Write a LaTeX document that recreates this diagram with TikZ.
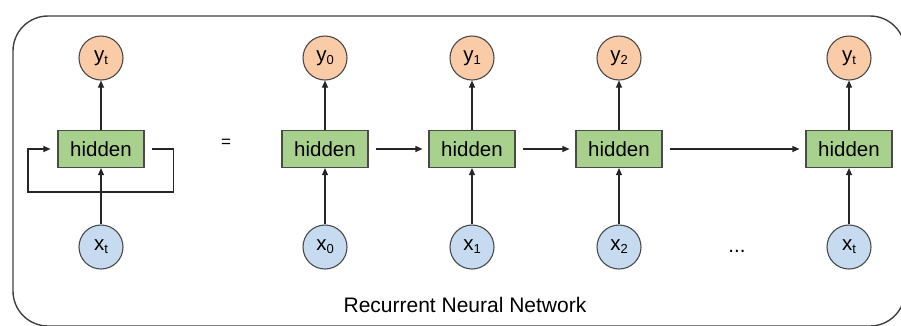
\documentclass[tikz,border=0pt]{standalone}
\usepackage{fontspec}
\setmainfont{Liberation Sans}
\usetikzlibrary{arrows.meta}
\definecolor{yfill}{HTML}{F9CBA7}
\definecolor{xfill}{HTML}{C6DBF0}
\definecolor{hfill}{HTML}{A9D18E}
\definecolor{edge}{HTML}{4A4A4A}
\newcommand{\sublab}[2]{#1\raisebox{-3pt}{\fontsize{13}{13}\selectfont #2}}
\begin{document}
\begin{tikzpicture}[x=1pt,y=-1pt,
  arr/.style={draw=black!85, line width=1.1pt, -{Triangle[length=7pt,width=6pt]}},
  ycirc/.style={circle, draw=edge, line width=1.1pt, fill=yfill, minimum size=44pt, inner sep=0pt, font=\fontsize{20.5}{20.5}\selectfont},
  xcirc/.style={circle, draw=edge, line width=1.1pt, fill=xfill, minimum size=44pt, inner sep=0pt, font=\fontsize{20.5}{20.5}\selectfont},
  hid/.style={rectangle, draw=edge, line width=1.1pt, fill=hfill, minimum width=86pt, minimum height=37pt, inner sep=0pt, font=\fontsize{20.5}{20.5}\selectfont},
  txt/.style={font=\fontsize{20.5}{20.5}\selectfont, inner sep=0pt}]
\useasboundingbox (0,0) rectangle (901,325);
\draw[rounded corners=35pt, line width=1.4pt, draw=black!75] (13,16) rectangle (905,326);

% folded RNN
\node[hid] (h) at (101,149) {hidden};
\node[ycirc] (y) at (101,58) {\sublab{y}{t}};
\node[xcirc] (x) at (101,247) {\sublab{x}{t}};
\draw[arr] (x) -- (h);
\draw[arr] (h) -- (y);
\draw[arr] ([xshift=7pt]h.east) -- ++(22,0) |- (28,192) |- ([xshift=-7pt]h.west);

\node[txt, font=\fontsize{17}{17}\selectfont] (eq) at (226,143) {=};

% unrolled
\foreach \n/\cx/\s in {0/325/0, 1/472/1, 2/619/2, 3/849/t}{
  \node[hid] (h\n) at (\cx,149) {hidden};
  \node[ycirc] (y\n) at (\cx,58) {\sublab{y}{\s}};
  \node[xcirc] (x\n) at (\cx,247) {\sublab{x}{\s}};
  \draw[arr] (x\n) -- (h\n);
  \draw[arr] (h\n) -- (y\n);
}
\draw[arr, shorten <=7pt, shorten >=6pt] (h0) -- (h1);
\draw[arr, shorten <=7pt, shorten >=6pt] (h1) -- (h2);
\draw[arr, shorten <=7pt, shorten >=6pt] (h2) -- (h3);

\node[txt, anchor=base] (dots) at (737,252) {...};
\node[txt, anchor=base, font=\fontsize{21}{21}\selectfont] (title) at (465,312) {Recurrent Neural Network};
\end{tikzpicture}
\end{document}
